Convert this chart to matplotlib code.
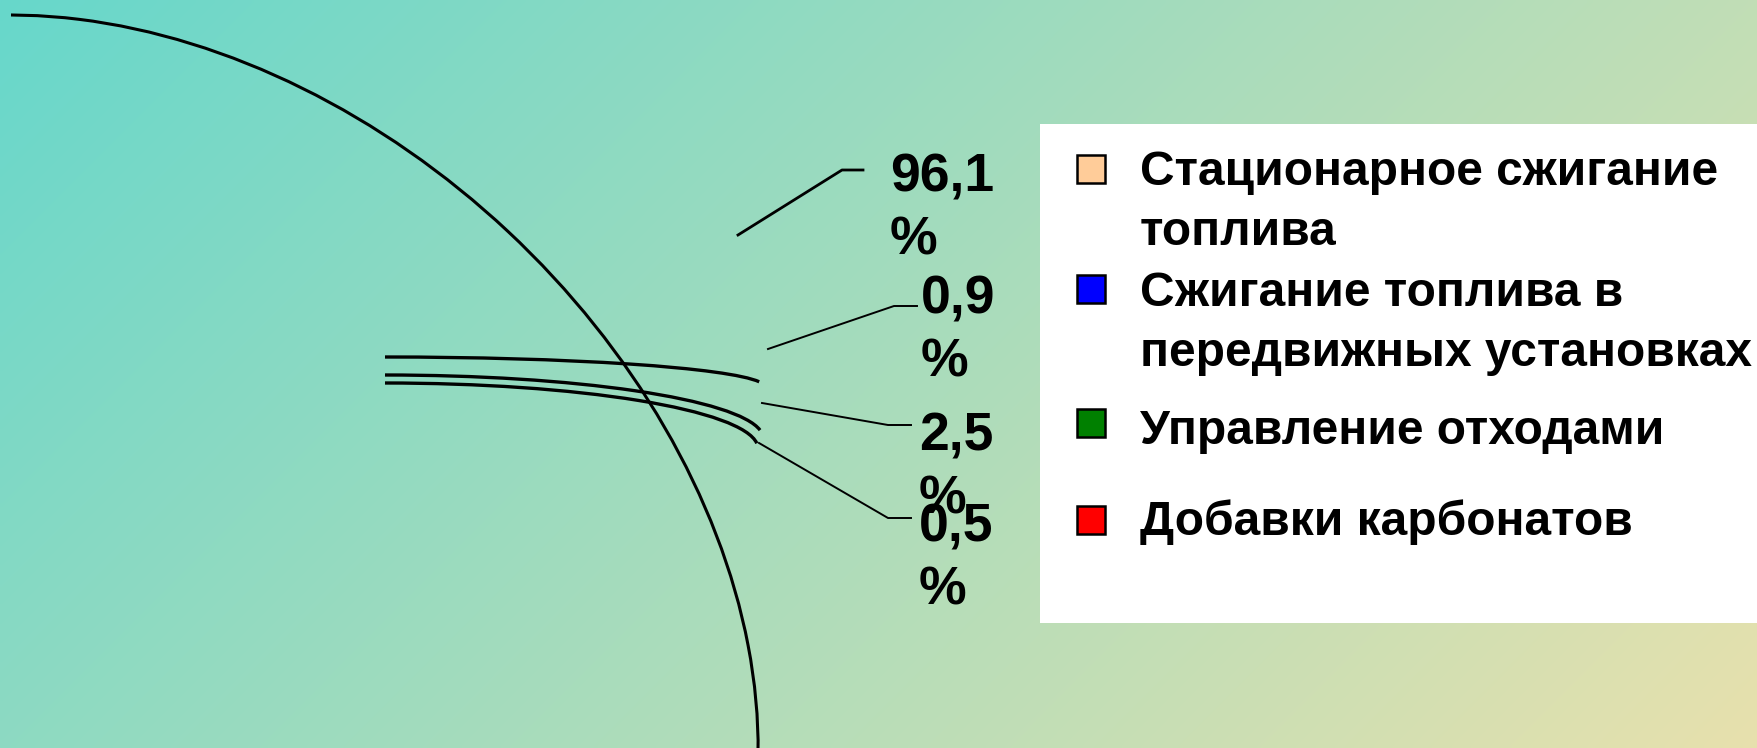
import numpy as np
import matplotlib.pyplot as plt
from matplotlib.patches import Ellipse, Arc, Rectangle

plt.rcParams['font.family'] = ['Liberation Sans', 'DejaVu Sans']

# data
categories = ["Стационарное сжигание\nтоплива",
              "Сжигание топлива в\nпередвижных установках",
              "Управление отходами",
              "Добавки карбонатов"]
shares = [96.1, 0.9, 2.5, 0.5]
colors = ["#FFCC99", "#0000FF", "#008000", "#FF0000"]

W, H = 1758, 748

# layout (pixel coords, y going down)
big_slice = dict(center=(185.5, 576.1), width=1296, height=944, angle=43.1)
# thin slices, seen almost edge-on: (centre y, width, height, end angle)
thin_y = [387, 438, 448.5]
thin_w = [760, 756, 746]
thin_h = [60, 126, 131]
thin_end = [359.2, 358.8, 359.2]
thin_x = 385

# leader lines: start point, knee, text position (left, top)
lead_start = [(738, 235), (768, 349), (762, 403), (759, 443)]
lead_knee = [(842, 170), (894, 306), (888, 425), (888, 518)]
lead_end_x = [863, 917, 911, 911]
text_pos = [(890, 152), (921, 274), (919, 411), (919, 502)]

legend_top = [150, 271, 409, 499]
marker_cy = [169, 289, 423, 520]

fig = plt.figure(figsize=(W / 100, H / 100), dpi=100)
ax = fig.add_axes([0, 0, 1, 1])

# background gradient, teal to pale yellow along the diagonal
yy, xx = np.mgrid[0:H:4, 0:W:4]
t = (xx + yy) / (W + H)
c0 = np.array([103, 215, 203]) / 255
c1 = np.array([232, 225, 173]) / 255
grad = c0 + t[..., None] * (c1 - c0)
ax.imshow(grad, extent=(0, W, H, 0), origin='upper', interpolation='bilinear', zorder=0)

# main slice outline
clip = Rectangle((11, 0), W, H, transform=ax.transData)
e = Ellipse(big_slice['center'], big_slice['width'], big_slice['height'],
            angle=big_slice['angle'], fill=False, ec='black', lw=2.2, zorder=2)
ax.add_patch(e)
e.set_clip_path(clip)

# thin slices
for cy, w, h, th in zip(thin_y, thin_w, thin_h, thin_end):
    ax.add_patch(Arc((thin_x, cy), w, h, theta1=270, theta2=th,
                     color='black', lw=2.4, zorder=2))

# value labels with leaders
for i, v in enumerate(shares):
    sx, sy = lead_start[i]
    kx, ky = lead_knee[i]
    lw = 2.0 if i == 0 else 1.4
    ax.plot([sx, kx, lead_end_x[i]], [sy, ky, ky], color='black', lw=lw, zorder=3)
    lbl = f"{v:.1f}".replace(".", ",") + "\n%"
    ax.text(text_pos[i][0], text_pos[i][1], lbl, fontsize=38.5, fontweight='bold',
            ha='left', va='top', linespacing=1.34, zorder=4)

# legend box
ax.add_patch(Rectangle((1040, 124), W - 1040 + 5, 499, fc='white', ec='none', zorder=5))
for i, cat in enumerate(categories):
    ax.add_patch(Rectangle((1077, marker_cy[i] - 14), 28, 28, fc=colors[i],
                           ec='black', lw=1.8, zorder=6))
    ax.text(1140, legend_top[i], cat, fontsize=34.5, fontweight='bold',
            ha='left', va='top', linespacing=1.43, zorder=6)

ax.set_xlim(0, W)
ax.set_ylim(H, 0)
ax.set_aspect('auto')
ax.axis('off')

fig.savefig('out.png', dpi=100)
